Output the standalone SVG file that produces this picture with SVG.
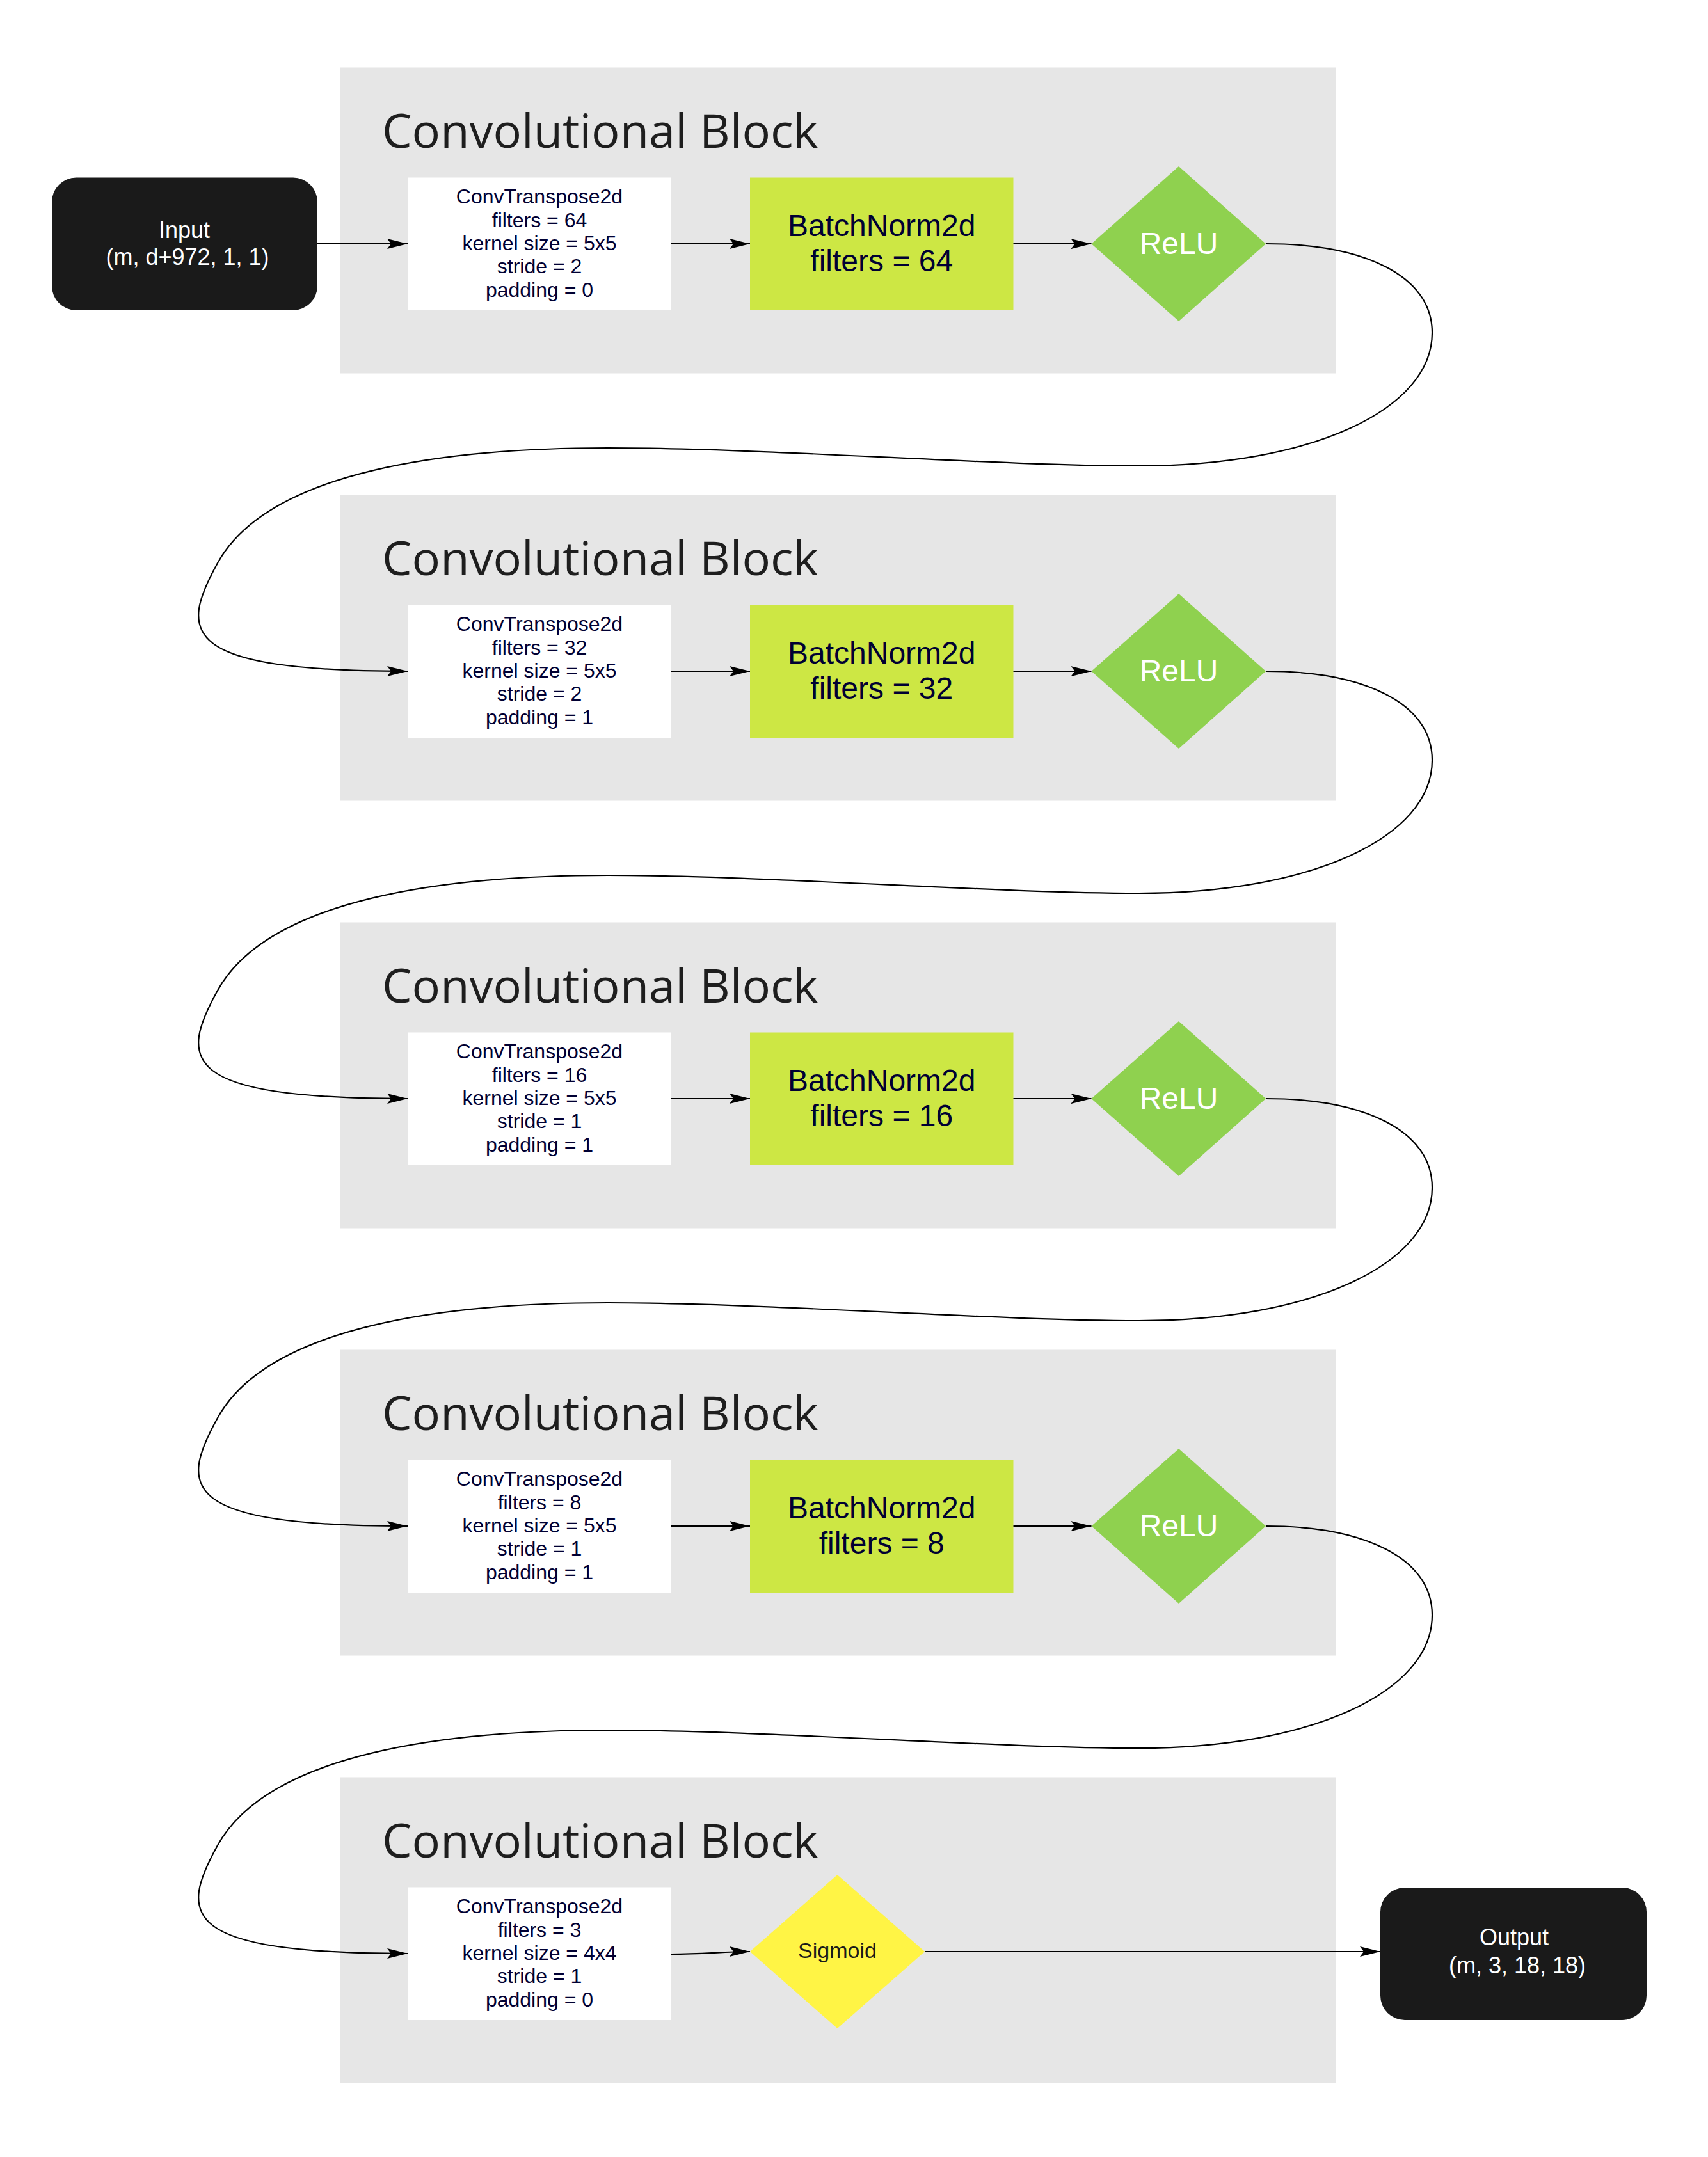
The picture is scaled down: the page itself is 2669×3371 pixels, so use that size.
<svg xmlns="http://www.w3.org/2000/svg" width="2669" height="3371" viewBox="0 0 2669 3371">
<style>
.blk{fill:#e6e6e6}
.ttl{font-family:"Open Sans","Noto Sans",sans-serif;font-size:74px;fill:#1e1e1e}
.conv{fill:#ffffff}
.ct{font-family:"Liberation Sans",Arial,sans-serif;font-size:32px;fill:#000033;text-anchor:middle}
.bn{fill:#cde744}
.bt{font-family:"Liberation Sans",Arial,sans-serif;font-size:48px;fill:#000033;text-anchor:middle}
.relu{fill:#8fd14f}
.rt{font-family:"Liberation Sans",Arial,sans-serif;font-size:48px;fill:#ffffff;text-anchor:middle}
.term{fill:#1a1a1a}
.tt{font-family:"Liberation Sans",Arial,sans-serif;font-size:36px;fill:#ffffff;text-anchor:middle}
.sg{fill:#fff445}
.st{font-family:"Liberation Sans",Arial,sans-serif;font-size:34px;fill:#1a1a1a;text-anchor:middle}
.edge{fill:none;stroke:#000000;stroke-width:2.2;marker-end:url(#arr)}
</style>
<defs>
<marker id="arr" markerUnits="userSpaceOnUse" viewBox="0 0 32 16" refX="32" refY="8" markerWidth="32" markerHeight="16" orient="auto">
<path d="M0 0 L32 8 L0 16 L6 8 Z" fill="#000000"/>
</marker>
</defs>
<rect width="2669" height="3371" fill="#ffffff"/>

<g id="block1">
<rect class="blk" x="531" y="105.5" width="1556" height="478"/>
<text class="ttl" x="597" y="231">Convolutional Block</text>
</g>
<g id="block2">
<rect class="blk" x="531" y="773.5" width="1556" height="478"/>
<text class="ttl" x="597" y="899">Convolutional Block</text>
</g>
<g id="block3">
<rect class="blk" x="531" y="1441.5" width="1556" height="478"/>
<text class="ttl" x="597" y="1567">Convolutional Block</text>
</g>
<g id="block4">
<rect class="blk" x="531" y="2109.5" width="1556" height="478"/>
<text class="ttl" x="597" y="2235">Convolutional Block</text>
</g>
<g id="block5">
<rect class="blk" x="531" y="2777.5" width="1556" height="478"/>
<text class="ttl" x="597" y="2903">Convolutional Block</text>
</g>

<g id="input">
<rect class="term" x="81" y="277.5" width="415" height="207.5" rx="38" ry="38"/>
<text class="tt" x="288" y="372">Input</text>
<text class="tt" x="293" y="414">(m, d+972, 1, 1)</text>
</g>

<g id="conv1">
<rect class="conv" x="637" y="277.5" width="412" height="207.5"/>
<text class="ct" x="843" y="318.4">ConvTranspose2d</text>
<text class="ct" x="843" y="354.7">filters = 64</text>
<text class="ct" x="843" y="391">kernel size = 5x5</text>
<text class="ct" x="843" y="427.3">stride = 2</text>
<text class="ct" x="843" y="463.6">padding = 0</text>
</g>
<g id="bn1">
<rect class="bn" x="1172" y="277.5" width="411.5" height="207.5"/>
<text class="bt" x="1377.75" y="368.5">BatchNorm2d</text>
<text class="bt" x="1377.75" y="423.5">filters = 64</text>
</g>
<g id="relu1">
<polygon class="relu" points="1842,260 1978,381 1842,502 1705.5,381"/>
<text class="rt" x="1842" y="397">ReLU</text>
</g>

<g id="conv2">
<rect class="conv" x="637" y="945.5" width="412" height="207.5"/>
<text class="ct" x="843" y="986.4">ConvTranspose2d</text>
<text class="ct" x="843" y="1022.7">filters = 32</text>
<text class="ct" x="843" y="1059">kernel size = 5x5</text>
<text class="ct" x="843" y="1095.3">stride = 2</text>
<text class="ct" x="843" y="1131.6">padding = 1</text>
</g>
<g id="bn2">
<rect class="bn" x="1172" y="945.5" width="411.5" height="207.5"/>
<text class="bt" x="1377.75" y="1036.5">BatchNorm2d</text>
<text class="bt" x="1377.75" y="1091.5">filters = 32</text>
</g>
<g id="relu2">
<polygon class="relu" points="1842,928 1978,1049 1842,1170 1705.5,1049"/>
<text class="rt" x="1842" y="1065">ReLU</text>
</g>

<g id="conv3">
<rect class="conv" x="637" y="1613.5" width="412" height="207.5"/>
<text class="ct" x="843" y="1654.4">ConvTranspose2d</text>
<text class="ct" x="843" y="1690.7">filters = 16</text>
<text class="ct" x="843" y="1727">kernel size = 5x5</text>
<text class="ct" x="843" y="1763.3">stride = 1</text>
<text class="ct" x="843" y="1799.6">padding = 1</text>
</g>
<g id="bn3">
<rect class="bn" x="1172" y="1613.5" width="411.5" height="207.5"/>
<text class="bt" x="1377.75" y="1704.5">BatchNorm2d</text>
<text class="bt" x="1377.75" y="1759.5">filters = 16</text>
</g>
<g id="relu3">
<polygon class="relu" points="1842,1596 1978,1717 1842,1838 1705.5,1717"/>
<text class="rt" x="1842" y="1733">ReLU</text>
</g>

<g id="conv4">
<rect class="conv" x="637" y="2281.5" width="412" height="207.5"/>
<text class="ct" x="843" y="2322.4">ConvTranspose2d</text>
<text class="ct" x="843" y="2358.7">filters = 8</text>
<text class="ct" x="843" y="2395">kernel size = 5x5</text>
<text class="ct" x="843" y="2431.3">stride = 1</text>
<text class="ct" x="843" y="2467.6">padding = 1</text>
</g>
<g id="bn4">
<rect class="bn" x="1172" y="2281.5" width="411.5" height="207.5"/>
<text class="bt" x="1377.75" y="2372.5">BatchNorm2d</text>
<text class="bt" x="1377.75" y="2427.5">filters = 8</text>
</g>
<g id="relu4">
<polygon class="relu" points="1842,2264 1978,2385 1842,2506 1705.5,2385"/>
<text class="rt" x="1842" y="2401">ReLU</text>
</g>

<g id="conv5">
<rect class="conv" x="637" y="2949.5" width="412" height="207.5"/>
<text class="ct" x="843" y="2990.4">ConvTranspose2d</text>
<text class="ct" x="843" y="3026.7">filters = 3</text>
<text class="ct" x="843" y="3063">kernel size = 4x4</text>
<text class="ct" x="843" y="3099.3">stride = 1</text>
<text class="ct" x="843" y="3135.6">padding = 0</text>
</g>
<g id="sigmoid">
<polygon class="sg" points="1308.5,2930 1445,3050 1308.5,3170 1172,3050"/>
<text class="st" x="1308.5" y="3060">Sigmoid</text>
</g>
<g id="output">
<rect class="term" x="2157" y="2950" width="416" height="207" rx="38" ry="38"/>
<text class="tt" x="2366" y="3040">Output</text>
<text class="tt" x="2371" y="3084">(m, 3, 18, 18)</text>
</g>

<g id="connectors">
<path class="edge" d="M496 381 L637 381"/>
<path class="edge" d="M1049 381 L1172 381"/>
<path class="edge" d="M1583.5 381 L1705.5 381"/>
<path class="edge" d="M1978 381 C2130 381 2238 430 2238 520 C2238 640 2050 728 1780 728 C1550 728 1200 700 950 700 C700 700 420 735 340 880 C280 988 280 1049 637 1049"/>

<path class="edge" d="M1049 1049 L1172 1049"/>
<path class="edge" d="M1583.5 1049 L1705.5 1049"/>
<path class="edge" d="M1978 1049 C2130 1049 2238 1098 2238 1188 C2238 1308 2050 1396 1780 1396 C1550 1396 1200 1368 950 1368 C700 1368 420 1403 340 1548 C280 1656 280 1717 637 1717"/>

<path class="edge" d="M1049 1717 L1172 1717"/>
<path class="edge" d="M1583.5 1717 L1705.5 1717"/>
<path class="edge" d="M1978 1717 C2130 1717 2238 1766 2238 1856 C2238 1976 2050 2064 1780 2064 C1550 2064 1200 2036 950 2036 C700 2036 420 2071 340 2216 C280 2324 280 2385 637 2385"/>

<path class="edge" d="M1049 2385 L1172 2385"/>
<path class="edge" d="M1583.5 2385 L1705.5 2385"/>
<path class="edge" d="M1978 2385 C2130 2385 2238 2434 2238 2524 C2238 2644 2050 2732 1780 2732 C1550 2732 1200 2704 950 2704 C700 2704 420 2739 340 2884 C280 2992 280 3053 637 3053"/>

<path class="edge" d="M1049 3054 C1100 3054 1130 3050 1172 3050"/>
<path class="edge" d="M1445 3050 L2157 3050"/>
</g>
</svg>
